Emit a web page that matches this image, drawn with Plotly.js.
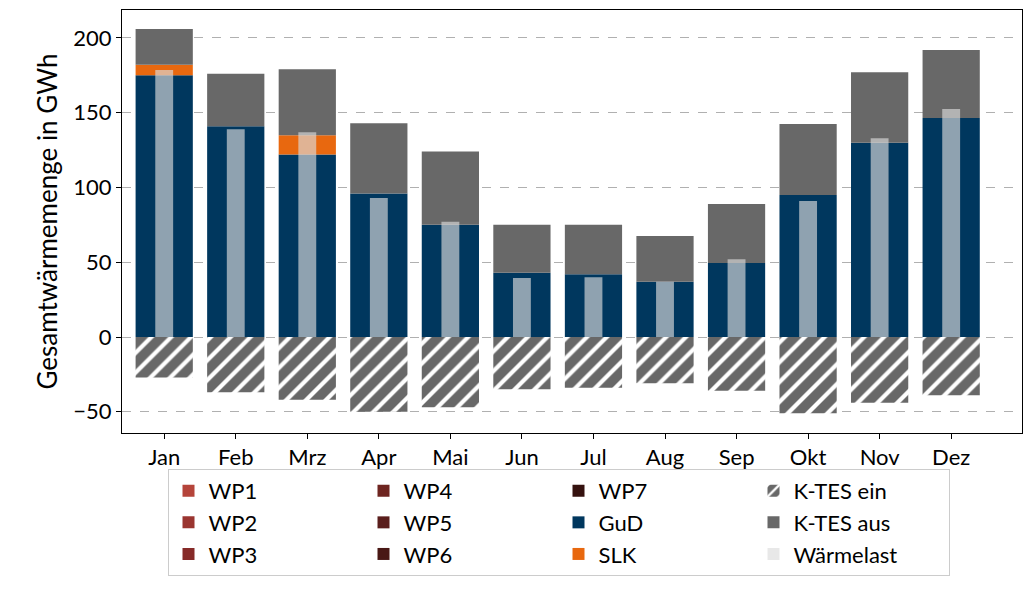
<!DOCTYPE html><html><head><meta charset="utf-8">
<script src="https://cdn.plot.ly/plotly-3.0.1.min.js"></script></head>
<body style="margin:0"><div id="c" style="width:1032px;height:607px"></div>
<script>
const months=["Jan","Feb","Mrz","Apr","Mai","Jun","Jul","Aug","Sep","Okt","Nov","Dez"];
const gud=[175,141,122,96,75,43,42,37,49.5,95,130,146.5];
const slk=[7,0,13,0,0,0,0,0,0,0,0,0];
const tesAus=[24,35,44,47,49,32,33,30.5,39.5,47.5,47,45.5];
const tesEin=[-27,-37,-42,-50,-47,-35,-34,-31,-36,-51,-44,-39];
const waermelast=[178.6,139,137,93,77,39.5,40,37,52,91,133,152.5];
const zeros=months.map(()=>0);
const wpNames=["WP1","WP2","WP3","WP4","WP5","WP6","WP7"];
const wpColors=["#b5443a","#9a3530","#862a28","#6e2520","#5a1e1c","#491815","#35120f"];
const rank={WP1:1,WP4:2,WP7:3,"K-TES ein":4,WP2:5,WP5:6,GuD:7,"K-TES aus":8,WP3:9,WP6:10,SLK:11,"Wärmelast":12};
const traces=[];
wpNames.forEach((n,i)=>traces.push({type:"bar",name:n,x:months,y:zeros,marker:{color:wpColors[i]},width:0.8,legendrank:rank[n]}));
traces.push({type:"bar",name:"GuD",x:months,y:gud,marker:{color:"#00375e"},width:0.8,legendrank:rank.GuD});
traces.push({type:"bar",name:"SLK",x:months,y:slk,marker:{color:"#e8680f"},width:0.8,legendrank:rank.SLK});
traces.push({type:"bar",name:"K-TES aus",x:months,y:tesAus,marker:{color:"#686868"},width:0.8,legendrank:rank["K-TES aus"]});
traces.push({type:"bar",name:"K-TES ein",x:months,y:tesEin,marker:{color:"#686868",pattern:{shape:"/",fgcolor:"#ffffff",bgcolor:"#686868",size:14,solidity:0.3}},width:0.8,legendrank:rank["K-TES ein"]});
traces.push({type:"bar",name:"Wärmelast",x:months,y:waermelast,xaxis:"x2",marker:{color:"rgba(220,220,220,0.65)"},width:0.25,legendrank:rank["Wärmelast"]});
const layout={
 width:1032,height:607,barmode:"relative",
 font:{family:"Lato",size:22,color:"#000"},
 margin:{l:122,r:10,t:10,b:174,autoexpand:false},
 plot_bgcolor:"#fff",paper_bgcolor:"#fff",
 xaxis:{range:[-0.59,11.99],showline:true,mirror:true,linecolor:"#000",ticks:"outside",tickcolor:"#000",showgrid:false},
 xaxis2:{overlaying:"x",matches:"x",visible:false},
 yaxis:{range:[-64.2,218.7],dtick:50,showline:true,mirror:true,linecolor:"#000",ticks:"outside",tickcolor:"#000",
   gridcolor:"#b0b0b0",griddash:"dash",zeroline:false,title:{text:"Gesamtwärmemenge in GWh",standoff:8}},
 legend:{orientation:"h",x:0.485,xanchor:"center",y:-0.085,yanchor:"top",entrywidth:150,
   bordercolor:"#ccc",borderwidth:1,font:{size:22},traceorder:"normal"}
};
Plotly.newPlot("c",traces,layout,{displayModeBar:false});
</script></body></html>
